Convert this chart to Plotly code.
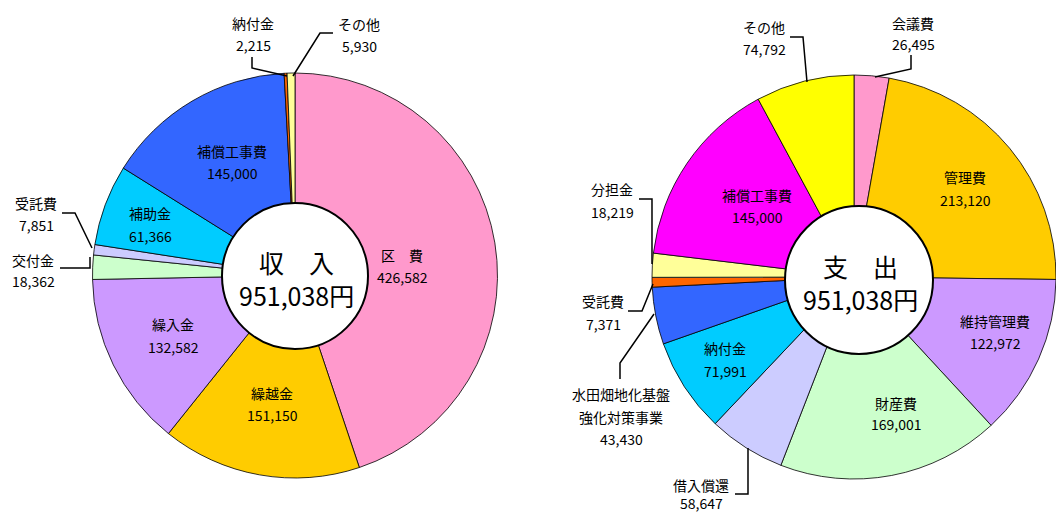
import plotly.graph_objects as go

W, H = 1056, 512

# ---- data ----
inc_labels = ["区費", "繰越金", "繰入金", "交付金", "受託費", "補助金", "補償工事費", "納付金", "その他"]
inc_values = [426582, 151150, 132582, 18362, 7851, 61366, 145000, 2215, 5930]
inc_colors = ["#FF99CC", "#FFCC00", "#CC99FF", "#CCFFCC", "#CCCCFF", "#00CCFF", "#3366FF", "#FF6600", "#FFFF99"]

exp_labels = ["会議費", "管理費", "維持管理費", "財産費", "借入償還", "納付金",
              "水田畑地化基盤強化対策事業", "受託費", "分担金", "補償工事費", "その他"]
exp_values = [26495, 213120, 122972, 169001, 58647, 71991, 43430, 7371, 18219, 145000, 74792]
exp_colors = ["#FF99CC", "#FFCC00", "#CC99FF", "#CCFFCC", "#CCCCFF", "#00CCFF",
              "#3366FF", "#FF6600", "#FFFF99", "#FF00FF", "#FFFF00"]

inc_total_label = "収　入"
exp_total_label = "支　出"
total_text = "951,038円"


def fmt(v):
    return f"{v:,}"


def px(x):
    return x / W


def py(y):
    return 1 - y / H


FONT = "Noto Sans CJK JP"

fig = go.Figure()

# left pie
fig.add_trace(go.Pie(
    labels=inc_labels, values=inc_values, sort=False, direction="clockwise", rotation=0,
    marker=dict(colors=inc_colors, line=dict(color="#000000", width=0.8)),
    textinfo="none", hoverinfo="label+value",
    domain=dict(x=[px(92), px(498)], y=[py(478), py(73)]),
))
# right pie
fig.add_trace(go.Pie(
    labels=exp_labels, values=exp_values, sort=False, direction="clockwise", rotation=0,
    marker=dict(colors=exp_colors, line=dict(color="#000000", width=0.8)),
    textinfo="none", hoverinfo="label+value",
    domain=dict(x=[px(652), 1.0], y=[py(479), py(75)]),
))

shapes = []
# centre circles
for cx, cy, r in [(295, 276, 73), (859, 280, 74)]:
    shapes.append(dict(type="circle", xref="paper", yref="paper",
                       x0=px(cx - r), x1=px(cx + r), y0=py(cy + r), y1=py(cy - r),
                       fillcolor="white", line=dict(color="black", width=2), layer="above"))

leaders = [
    [(252, 57), (252, 68), (287, 76)],
    [(333, 33), (320, 33), (293, 76)],
    [(62, 213), (75, 213), (92, 248)],
    [(60, 268), (90, 268), (90, 257)],
    [(790, 37), (803, 37), (807, 82)],
    [(911, 55), (911, 69), (875, 77)],
    [(639, 199), (652, 199), (652, 264)],
    [(628, 311), (642, 311), (653, 284)],
    [(620, 379), (620, 363), (654, 314)],
    [(735, 494), (748, 494), (748, 448)],
]
for pts in leaders:
    path = "M " + " L ".join(f"{px(x):.5f},{py(y):.5f}" for x, y in pts)
    shapes.append(dict(type="path", xref="paper", yref="paper", path=path,
                       line=dict(color="black", width=1.5), layer="above"))

# label placement (pixel positions: name line, value line)
inc_pos = {
    "区費": (402, 255, 277),
    "繰越金": (272, 393, 415),
    "繰入金": (173, 324, 347),
    "交付金": (33, 260, 281),
    "受託費": (36, 203, 225),
    "補助金": (150, 213, 236),
    "補償工事費": (232, 151, 173),
    "納付金": (253, 23, 45),
    "その他": (359, 24, 46),
}
exp_pos = {
    "会議費": (913, 23, 44),
    "管理費": (965, 177, 200),
    "維持管理費": (995, 321, 343),
    "財産費": (896, 403, 424),
    "借入償還": (701, 485, 503),
    "納付金": (725, 348, 371),
    "受託費": (603, 301, 324),
    "分担金": (612, 189, 212),
    "補償工事費": (757, 195, 217),
    "その他": (764, 27, 49),
}

annotations = []


def add_text(x, y, text, size=14):
    annotations.append(dict(x=px(x), y=py(y), xref="paper", yref="paper", text=text,
                            showarrow=False, xanchor="center", yanchor="middle",
                            font=dict(family=FONT, size=size, color="#000000")))


for lab, val in zip(inc_labels, inc_values):
    x, y1, y2 = inc_pos[lab]
    add_text(x, y1, "区　費" if lab == "区費" else lab)
    add_text(x, y2, fmt(val))

for lab, val in zip(exp_labels, exp_values):
    if lab == "水田畑地化基盤強化対策事業":
        add_text(621, 394, "水田畑地化基盤")
        add_text(621, 417, "強化対策事業")
        add_text(621, 439, fmt(val))
        continue
    x, y1, y2 = exp_pos[lab]
    add_text(x, y1, lab)
    add_text(x, y2, fmt(val))

add_text(296, 278, inc_total_label + "<br>" + total_text, 25)
add_text(860, 282, exp_total_label + "<br>" + total_text, 25)

fig.update_layout(
    width=W, height=H, margin=dict(l=0, r=0, t=0, b=0),
    paper_bgcolor="white", plot_bgcolor="white", showlegend=False,
    shapes=shapes, annotations=annotations,
)

fig.write_html("out.html")
